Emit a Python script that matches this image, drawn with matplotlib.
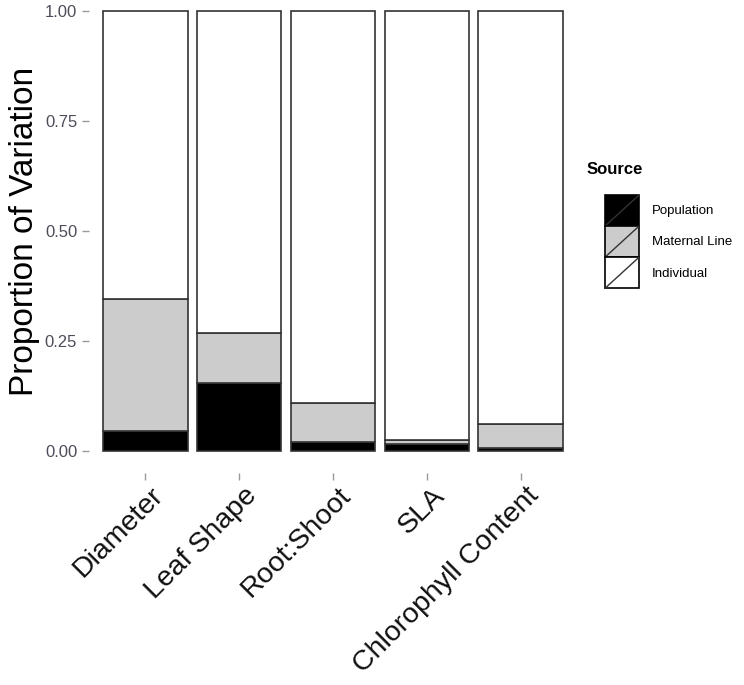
import numpy as np
import matplotlib.pyplot as plt
import matplotlib.transforms as mtransforms
from matplotlib.patches import Rectangle
from matplotlib.lines import Line2D
from matplotlib.legend_handler import HandlerPatch

plt.rcParams['font.family'] = ['Liberation Sans', 'DejaVu Sans']

traits = ["Diameter", "Leaf Shape", "Root:Shoot", "SLA", "Chlorophyll Content"]
population = [0.045, 0.155, 0.020, 0.016, 0.007]
maternal = [0.300, 0.113, 0.089, 0.009, 0.054]
sources = ["Population", "Maternal Line", "Individual"]
colors = ["#000000", "#cccccc", "#ffffff"]

population = np.array(population)
maternal = np.array(maternal)
individual = 1 - population - maternal

fig = plt.figure(figsize=(7.44, 6.85), dpi=100)
ax = fig.add_axes([89 / 744, 212 / 685, 488 / 744, 473 / 685])

x = np.arange(1, len(traits) + 1)
edge = "#333333"
bottom = np.zeros(len(traits))
for vals, col in zip([population, maternal, individual], colors):
    ax.bar(x, vals, bottom=bottom, width=0.9, color=col, edgecolor=edge, linewidth=1.2)
    bottom += vals

ax.set_xlim(0.4, 5.6)
ax.set_ylim(-0.05, 1.025)
ax.set_yticks([0, 0.25, 0.5, 0.75, 1.0])
ax.set_yticklabels(["0.00", "0.25", "0.50", "0.75", "1.00"], fontsize=12, color="#4d4d5a")
ax.set_xticks(x)
ax.set_xticklabels(traits, rotation=45, ha="right", rotation_mode="anchor", fontsize=20.5, color="#111111")
ax.tick_params(axis="both", color="#999999", length=5, width=1)
ax.tick_params(axis="x", pad=4)
shift = mtransforms.ScaledTranslation(5 / 100, 3 / 100, fig.dpi_scale_trans)
for lab in ax.get_xticklabels():
    lab.set_transform(lab.get_transform() + shift)
for s in ax.spines.values():
    s.set_visible(False)
ax.set_ylabel("Proportion of Variation", fontsize=24)
ax.yaxis.set_label_coords(-0.1, (473 - 231) / 473)


class SlashHandler(HandlerPatch):
    def create_artists(self, legend, orig_handle, xdescent, ydescent, width, height, fontsize, trans):
        r = Rectangle((-xdescent, -ydescent), width, height, facecolor=orig_handle.get_facecolor(),
                      edgecolor="black", linewidth=1.2, transform=trans)
        ln = Line2D([-xdescent, -xdescent + width], [-ydescent, -ydescent + height],
                    color="#333333", linewidth=1.0, transform=trans)
        return [r, ln]


# legend key height: 31 px, width 34 px at fontsize 9.5
handles = [Rectangle((0, 0), 1, 1, facecolor=c) for c in colors]
leg = fig.legend(handles, sources, handler_map={Rectangle: SlashHandler()},
                 loc="upper left", bbox_to_anchor=(605 / 744, 1 - 195 / 685),
                 frameon=False, fontsize=9.5, handlelength=2.58, handleheight=3.25,
                 labelspacing=0, handletextpad=1.0, borderpad=0, borderaxespad=0)
fig.text(587 / 744, 1 - 170 / 685, "Source", fontsize=12, fontweight="bold", va="center")

fig.savefig("out.png", dpi=100)
